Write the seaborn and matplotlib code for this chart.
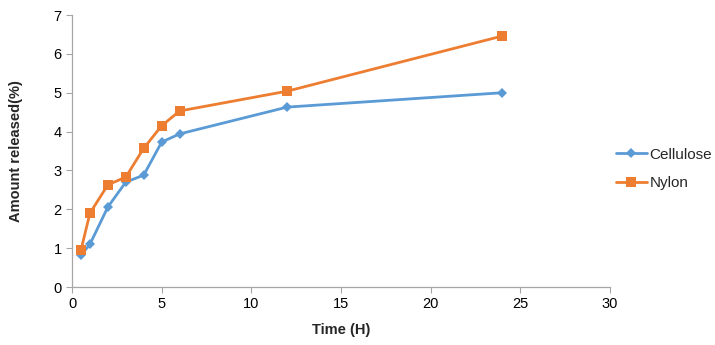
import matplotlib
matplotlib.use("Agg")
import matplotlib.pyplot as plt
import seaborn as sns
import pandas as pd

# Release data over time
time_h = [0.5, 1, 2, 3, 4, 5, 6, 12, 24]
cellulose = [0.82, 1.10, 2.06, 2.70, 2.88, 3.73, 3.94, 4.63, 5.00]
nylon = [0.95, 1.90, 2.63, 2.83, 3.57, 4.15, 4.53, 5.04, 6.46]
series_names = ["Cellulose", "Nylon"]

df = pd.DataFrame({
    "Time (H)": time_h * 2,
    "Amount released(%)": cellulose + nylon,
    "Membrane": [series_names[0]] * len(time_h) + [series_names[1]] * len(time_h),
})

sns.set_theme(style="white")
plt.rcParams["font.family"] = ["Liberation Sans", "DejaVu Sans"]

fig = plt.figure(figsize=(7.15, 3.45), dpi=100)
ax = fig.add_axes([0.1007, 0.168, 0.7523, 0.7885])

palette = {"Cellulose": "#5B9BD5", "Nylon": "#ED7D31"}
sns.lineplot(data=df, x="Time (H)", y="Amount released(%)", hue="Membrane",
             style="Membrane", markers={"Cellulose": "D", "Nylon": "s"},
             dashes=False, palette=palette, linewidth=2.0,
             markeredgewidth=0, ax=ax, legend=True)
for line in ax.lines:
    if line.get_marker() == "D":
        line.set_markersize(5)
    else:
        line.set_markersize(7)

ax.set_xlim(0, 30)
ax.set_ylim(0, 7)
ax.set_xticks(range(0, 31, 5))
ax.set_yticks(range(0, 8))
ax.tick_params(axis="both", labelsize=10.5, length=4, direction="out",
               width=0.8, bottom=True, left=True, color="#A6A6A6",
               labelcolor="black")
for side in ["top", "right"]:
    ax.spines[side].set_visible(False)
for side in ["left", "bottom"]:
    ax.spines[side].set_color("#A6A6A6")
    ax.spines[side].set_linewidth(0.9)

ax.set_xlabel("Time (H)", fontsize=10.5, fontweight="bold", labelpad=8)
ax.set_ylabel("Amount released(%)", fontsize=10.5, fontweight="bold", labelpad=22)

handles, labels = ax.get_legend_handles_labels()
ax.legend(handles, labels, loc="center left", bbox_to_anchor=(1.0, 0.434),
          frameon=False, fontsize=11, handlelength=2.0, labelspacing=0.95,
          handletextpad=0.2, borderaxespad=0.0)

fig.savefig("out.png", dpi=100)
